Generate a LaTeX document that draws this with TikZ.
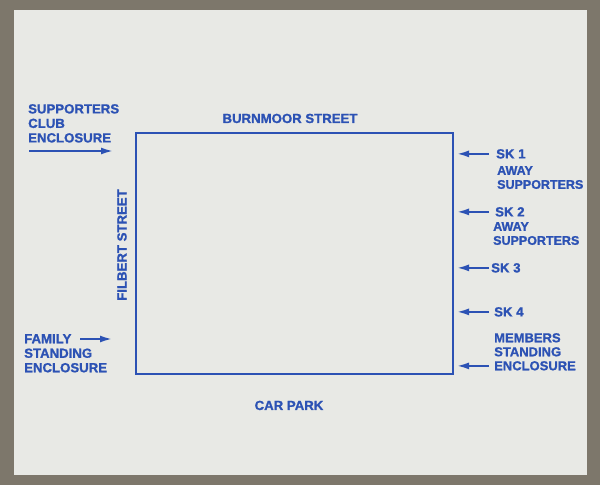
\documentclass[tikz,border=0pt]{standalone}
\usepackage{fontspec}
\newfontfamily\ticketfont{Liberation Sans Bold}[FakeBold=1.2]
\usetikzlibrary{arrows.meta, positioning}
\definecolor{ink}{RGB}{44,82,180}
\definecolor{paper}{RGB}{232,233,229}
\definecolor{desk}{RGB}{125,119,107}

\begin{document}
\begin{tikzpicture}[x=1pt, y=1pt, >={Latex[length=12pt,width=7pt]},
    tag/.style={inner sep=0pt, text=ink, align=left, font=\ticketfont\fontsize{13.2}{14.5}\selectfont},
    smalltag/.style={tag, font=\ticketfont\fontsize{12.5}{14}\selectfont},
    pointer/.style={->, draw=ink, line width=1.9pt}]
    % Fondo y billete
    \useasboundingbox (0,0) rectangle (600,485);
    \fill[desk] (0,0) rectangle (600,485);
    \fill[paper] (14,10) rectangle (587,475);

    % Campo
    \node [draw=ink, line width=2pt, inner sep=0pt, minimum width=317pt, minimum height=241pt] (ground) at (294.5,231.5) {};

    % Calles
    \node [tag, anchor=base] (burnmoor) at (290,362) {BURNMOOR STREET};
    \node [tag, rotate=90] (filbert) at (122,240) {FILBERT STREET};
    \node [tag, anchor=base] (carpark) at (289,75) {CAR PARK};

    % Zonas a la izquierda
    \node [tag, anchor=north west] (supporters) at (28,381) {SUPPORTERS\\CLUB\\ENCLOSURE};
    \node [tag, anchor=north west] (family) at (24,151) {FAMILY\\STANDING\\ENCLOSURE};
    \coordinate (clubtail) at (29,334);
    \coordinate (clubhead) at (113,334);
    \coordinate (familytail) at (80,146);
    \coordinate (familyhead) at (112,146);
    \draw[pointer] (clubtail) -- (clubhead);
    \draw[pointer] (familytail) -- (familyhead);

    % Zonas a la derecha
    \node [tag, anchor=north west] (sk1) at (496,336) {SK 1};
    \node [smalltag, anchor=north west] (sk1away) at (497,319) {AWAY\\SUPPORTERS};
    \node [tag, anchor=north west] (sk2) at (495,278) {SK 2};
    \node [smalltag, anchor=north west] (sk2away) at (493,263) {AWAY\\SUPPORTERS};
    \node [tag, anchor=north west] (sk3) at (491,222) {SK 3};
    \node [tag, anchor=north west] (sk4) at (494,178) {SK 4};
    \node [tag, anchor=north west, font=\ticketfont\fontsize{13}{14}\selectfont] (members) at (494,152) {MEMBERS\\STANDING\\ENCLOSURE};
    \coordinate (tails) at (489,0);
    \coordinate (membersline) at ([yshift=4.7pt]members.south west);

    % Flechas hacia el campo
    \foreach \stand in {sk1,sk2,sk3,sk4}
        \draw[pointer] (tails |- \stand.west) -- ([xshift=3pt]ground.east |- \stand.west);
    \draw[pointer] (tails |- membersline) -- ([xshift=3pt]ground.east |- membersline);

\end{tikzpicture}
\end{document}
